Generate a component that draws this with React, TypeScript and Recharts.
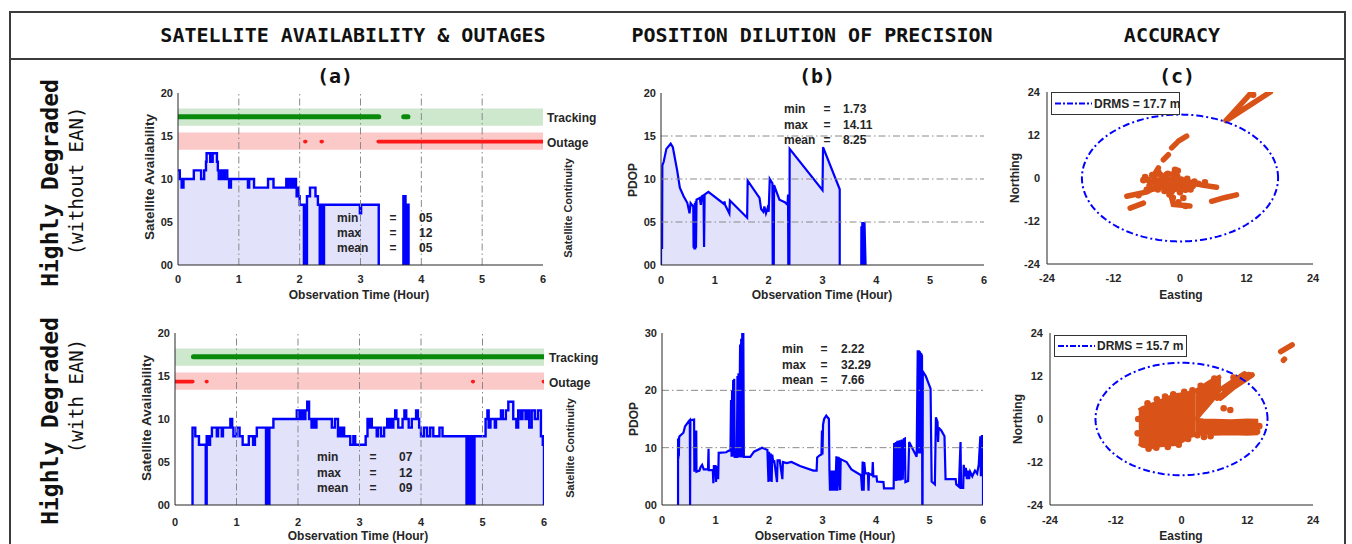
import React from 'react';
import { ComposedChart, Area, Line, Scatter, XAxis, YAxis, ReferenceArea, ReferenceLine } from 'recharts';

const SANS = "'Liberation Sans', Arial, Helvetica, sans-serif";
const MONO = "'DejaVu Sans Mono', 'Liberation Mono', monospace";
const BLUE = '#0000ff';
const LAV = '#e2e2fb';
const ORANGE = '#d95319';
const GRID = '#8a8a8a';
const INK = '#262626';
const GREEN_BAND = '#cde8cd';
const RED_BAND = '#fcc9c9';
const GREEN = '#0a8a0a';
const RED = '#ff1a1a';

// ---------- ticks ----------
const hourTicks = [0, 1, 2, 3, 4, 5, 6];
const gridHours = [1, 2, 3, 4, 5];
const availTicks = [0, 5, 10, 15, 20];
const pdopTopTicks = [0, 5, 10, 15, 20];
const pdopTopGrid = [5, 10, 15];
const pdopBotTicks = [0, 10, 20, 30];
const pdopBotGrid = [10, 20];
const enTicks = [-24, -12, 0, 12, 24];
const contTicks = [1, 2, 3, 4];

// ---------- satellite continuity bands ----------
const trackingBand: [number, number] = [16.2, 18.2];
const outageBand: [number, number] = [13.4, 15.4];
const trackingLevel = 17.25;
const outageLevel = 14.35;

const trackTop: [number, number][] = [[0, 3.3], [3.71, 3.78]];
const outageTop: [number, number][] = [[2.085, 2.1], [2.355, 2.37], [3.29, 6]];
const trackBot: [number, number][] = [[0.3, 6.02]];
const outageBot: [number, number][] = [[0, 0.29], [0.51, 0.52], [4.84, 4.85], [5.99, 6.0]];

// ---------- satellite availability (time h, count) ----------
const availTop: [number, number | null][] = [
  [0, 11], [0.03, 10], [0.06, 9], [0.09, 10], [0.26, 11], [0.38, 10], [0.43, 11], [0.46, 12], [0.47, 13],
  [0.53, 12], [0.57, 13], [0.64, 12], [0.655, 11], [0.67, 10], [0.71, 11], [0.75, 10], [0.77, 11], [0.81, 10],
  [0.84, 9], [0.87, 10], [1.15, 9], [1.17, 10], [1.25, 9], [1.48, 10], [1.57, 9], [1.78, 10], [1.8, 9],
  [1.82, 10], [1.86, 9], [1.88, 10], [1.9, 9], [1.92, 10], [1.94, 9], [1.95, 8], [1.97, 9], [1.98, 8],
  [2.0, 7], [2.07, 0], [2.075, 7], [2.1, 0], [2.12, 8], [2.17, 9], [2.26, 8], [2.3, 7], [2.33, 0], [2.34, 7],
  [2.345, 0], [2.355, 7], [2.36, 0], [2.37, 7], [2.375, 0], [2.385, 7], [2.39, 0], [2.4, 7], [2.99, 6],
  [3.01, 7], [3.3, 0], [3.31, null], [3.7, 0], [3.705, 8], [3.71, 0], [3.715, 8], [3.72, 0], [3.725, 8],
  [3.73, 0], [3.735, 8], [3.74, 0], [3.75, 7], [3.755, 0], [3.765, 7], [3.77, 0], [3.775, 7], [3.78, 0],
  [3.785, 7], [3.79, 0], [3.8, null],
];

const availBot: [number, number | null][] = [
  [0.28, 0], [0.285, 9], [0.33, 8], [0.39, 7], [0.5, 0], [0.515, 8], [0.55, 7], [0.57, 8], [0.6, 9],
  [0.68, 8], [0.7, 9], [0.76, 8], [0.78, 9], [0.9, 10], [0.93, 9], [0.95, 8], [1.0, 9], [1.05, 8], [1.1, 7],
  [1.2, 8], [1.27, 7], [1.3, 8], [1.33, 9], [1.48, 0], [1.49, 9], [1.495, 0], [1.505, 9], [1.51, 0],
  [1.52, 9], [1.525, 0], [1.535, 9], [1.6, 10], [1.98, 11], [2.0, 10], [2.02, 11], [2.05, 10], [2.07, 11],
  [2.1, 10], [2.12, 11], [2.15, 12], [2.18, 10], [2.22, 9], [2.25, 10], [2.27, 9], [2.3, 10], [2.55, 9],
  [2.6, 10], [2.65, 8], [2.68, 9], [2.7, 8], [2.72, 9], [2.75, 8], [2.85, 7], [2.9, 8], [2.93, 7],
  [3.1, 8], [3.13, 10], [3.15, 9], [3.18, 10], [3.2, 9], [3.28, 8], [3.3, 9], [3.35, 8], [3.4, 9],
  [3.45, 10], [3.47, 9], [3.5, 10], [3.53, 9], [3.55, 10], [3.58, 11], [3.6, 10], [3.63, 9], [3.7, 10],
  [3.73, 11], [3.76, 10], [3.8, 9], [3.85, 10], [3.92, 11], [3.95, 10], [3.97, 9], [4.0, 8], [4.05, 9],
  [4.1, 8], [4.15, 9], [4.2, 8], [4.3, 9], [4.35, 8], [4.74, 0], [4.75, 8], [4.755, 0], [4.765, 8],
  [4.77, 0], [4.78, 8], [4.785, 0], [4.795, 8], [4.8, 0], [4.81, 8], [4.815, 0], [4.825, 8], [4.83, 0],
  [4.84, 8], [4.845, 0], [4.855, 8], [4.86, 0], [4.87, 8], [5.05, 10], [5.08, 11], [5.1, 9], [5.13, 10],
  [5.2, 9], [5.22, 10], [5.3, 11], [5.33, 10], [5.38, 11], [5.42, 12], [5.5, 10], [5.55, 9], [5.58, 11],
  [5.62, 10], [5.65, 11], [5.7, 10], [5.73, 11], [5.76, 9], [5.8, 11], [5.85, 10], [5.9, 11], [5.95, 8],
  [5.98, 7], [6.0, 0],
];

// ---------- PDOP (time h, pdop) ----------
const pdopTop: [number, number | null][] = [
  [0, 0], [0.001, 2], [0.02, 2], [0.025, 11.6], [0.05, 12], [0.1, 13.5], [0.18, 14.1], [0.22, 13.7],
  [0.3, 11], [0.35, 9], [0.42, 8], [0.49, 7.2], [0.53, 6], [0.55, 7.2], [0.6, 6.8], [0.605, 2],
  [0.615, 7], [0.62, 1.8], [0.63, 7.2], [0.635, 1.8], [0.645, 7.4], [0.65, 2], [0.66, 7.6], [0.72, 7.8],
  [0.74, 7], [0.76, 8], [0.79, 8.1], [0.8, 2.1], [0.81, 8.2], [0.88, 8.5], [1.17, 7.1], [1.18, 7.4],
  [1.19, 7], [1.27, 6.0], [1.28, 7.5], [1.6, 5.5], [1.61, 9.8], [1.83, 7.8], [1.86, 6.5], [1.9, 6.2],
  [1.92, 6.8], [1.95, 6], [1.98, 6.6], [2.0, 6.2], [2.02, 10], [2.07, 9.5], [2.075, 0], [2.095, 0],
  [2.1, 9.3], [2.2, 7.6], [2.3, 7.3], [2.35, 7], [2.36, 8.2], [2.365, 0], [2.385, 0], [2.39, 13.5],
  [3.0, 8.7], [3.01, 13.7], [3.32, 8.8], [3.32, 0], [3.33, null], [3.72, 0], [3.722, 4.5], [3.73, 0],
  [3.74, 5], [3.75, 0], [3.76, 4.8], [3.77, 0], [3.78, 5], [3.8, 0], [3.81, null],
];

const pdopBot: [number, number | null][] = [
  [0.3, 0], [0.3, 11.5], [0.305, 8], [0.31, 11.7], [0.315, 8.5], [0.32, 11.8], [0.33, 12], [0.4, 12.6],
  [0.43, 13.7], [0.5, 14.6], [0.52, 14.8], [0.525, 0], [0.53, 14.8], [0.6, 14.9], [0.605, 6], [0.63, 6],
  [0.64, 13], [0.645, 5.8], [0.7, 6], [0.72, 6.6], [0.75, 7], [0.78, 6.2], [0.86, 6.2], [0.87, 9.8],
  [0.875, 6.1], [0.95, 6.1], [0.96, 3.8], [0.97, 6.8], [1.0, 6.8], [1.01, 4], [1.02, 6.8], [1.05, 4.5],
  [1.06, 9.1], [1.2, 9.2], [1.25, 9.5], [1.28, 9.5], [1.29, 18.3], [1.3, 8.4], [1.31, 20], [1.32, 8.4],
  [1.33, 21.8], [1.34, 8.4], [1.35, 22], [1.36, 8.4], [1.4, 8.4], [1.41, 22.5], [1.42, 8.3], [1.43, 23],
  [1.44, 8.3], [1.46, 28], [1.47, 8.3], [1.48, 29], [1.49, 8.3], [1.5, 30], [1.51, 8.3], [1.52, 30],
  [1.53, 8.4], [1.65, 8.4], [1.72, 9.3], [1.87, 10], [1.97, 9.6], [1.99, 4], [2.0, 9.3], [2.02, 4.2],
  [2.03, 9], [2.05, 4], [2.06, 8.8], [2.08, 7.5], [2.1, 7.6], [2.15, 4], [2.16, 7.8], [2.2, 7.8],
  [2.25, 4.5], [2.26, 7.5], [2.33, 7.3], [2.42, 7.5], [2.58, 6.8], [2.83, 6.0], [2.89, 6.0], [2.9, 8.3],
  [2.95, 8.7], [2.98, 8.8], [2.99, 13], [3.0, 8.8], [3.01, 14], [3.03, 15], [3.07, 15.6], [3.12, 15],
  [3.13, 6], [3.14, 2.5], [3.15, 6], [3.17, 2.5], [3.18, 6], [3.2, 2.5], [3.22, 6], [3.24, 2.5],
  [3.26, 8.5], [3.28, 2.5], [3.3, 8.4], [3.33, 2.6], [3.34, 8], [3.45, 7.5], [3.54, 6.2], [3.72, 5.2],
  [3.74, 2.5], [3.75, 7.6], [3.77, 2.5], [3.78, 7.5], [3.8, 5.5], [3.85, 5.5], [3.86, 2.5], [3.87, 5.5],
  [3.93, 5.2], [3.94, 7.5], [3.95, 5], [4.01, 5], [4.02, 4.1], [4.14, 4], [4.15, 2.9], [4.33, 2.9],
  [4.34, 10.8], [4.35, 4.2], [4.37, 11], [4.38, 4.2], [4.4, 11.2], [4.42, 4.3], [4.44, 11.3], [4.46, 4.3],
  [4.48, 11.4], [4.5, 4.4], [4.52, 11.5], [4.54, 11.6], [4.55, 4], [4.6, 4.2], [4.62, 11], [4.76, 8.4],
  [4.78, 27], [4.79, 9], [4.8, 27], [4.81, 9], [4.82, 26.8], [4.83, 9], [4.84, 26.5], [4.86, 26],
  [4.865, 0], [4.87, 0], [4.875, 23.3], [4.93, 22.5], [5.02, 20.3], [5.04, 4.1], [5.1, 3.6], [5.12, 15.3],
  [5.15, 14.5], [5.16, 11], [5.17, 13.5], [5.22, 13], [5.28, 12], [5.3, 4.5], [5.49, 4.5], [5.5, 3.6],
  [5.55, 3.2], [5.58, 11], [5.59, 3], [5.63, 3], [5.64, 7], [5.66, 5], [5.68, 6.5], [5.7, 4.5], [5.72, 6],
  [5.74, 4.5], [5.76, 5.8], [5.8, 5], [5.85, 6], [5.89, 5.5], [5.92, 7], [5.95, 12], [5.96, 5], [5.98, 12],
  [6.0, 12], [6.0, 0],
];

// ---------- accuracy scatter (Easting, Northing, m) ----------
const drmsTop = 17.7;
const drmsBot = 15.7;

const streaksTop: [number, number][][] = [
  [[8.3, 16], [13, 24]],
  [[8.3, 16], [16.3, 24]],
  [[-4.8, 0.5], [-3.9, 2.8]],
  [[-3.0, 5.1], [-2.1, 6.5]],
  [[-1.5, 8.4], [-0.6, 9.8]],
  [[-0.3, 10.3], [1.2, 11.7]],
  [[-9.6, -5.1], [-6, -3.9], [-3, -1.5]],
  [[2, -1.2], [4, -2], [6.6, -2.6]],
  [[5.7, -6.5], [8, -5.5], [10.2, -4.7]],
  [[-9, -8.4], [-6.6, -7]],
  [[-1.6, -5], [-1.2, -7.4], [1.8, -7.8]],
  [[-5.5, -1.0], [-1.5, -2.5], [2.5, -1.6]],
];
const dotsTop: [number, number][] = [
  [-6.3, 0.3], [-5.8, -0.5], [-5.2, -1.2], [-4.6, -0.2], [-4.2, -1.8], [-3.8, -0.8], [-3.4, -2.4],
  [-3.0, 0.2], [-2.7, -1.3], [-2.3, -2.8], [-2.0, -0.5], [-1.7, -1.9], [-1.3, 1.0], [-1.0, -0.8],
  [-0.8, -3.0], [-0.5, 0.5], [-0.2, -1.6], [0.2, -0.4], [0.5, -2.4], [0.9, -1.0], [1.3, -0.2],
  [1.6, -2.0], [-4.0, -3.2], [-2.8, -3.6], [-1.5, -3.8], [-0.4, 2.0], [-2.2, 1.2], [0.0, -4.0],
  [1.0, -3.3], [2.6, -1.0], [3.3, -1.6], [-5.5, -2.2], [-0.9, 2.3], [-3.6, 0.9], [-6.6, -0.6],
  [-1.9, -4.6], [0.6, -5.6], [12.8, 23.6], [13.2, 23.2], [4.5, -1.2], [-7.5, -4.8],
  [-4.9, -3.0], [-3.2, -1.0], [-2.5, 0.8], [-1.2, -2.6], [0.3, -3.1], [-0.6, -1.2], [1.9, -3.2],
  [-5.0, 0.8], [-3.9, 1.6], [-2.0, -3.2], [-1.0, 0.3], [2.3, -2.2], [-1.3, -5.5], [-0.3, -6.8],
  [1.0, -7.8], [-6.0, -3.3],
];

const blobMain: [number, number, number][] = [
  [-7.8, -6.8, 2.4], [-7.2, -7.4, 3.0], [-5.7, -7.9, 3.9], [-4.5, -7.6, 4.5], [-3.8, -7.3, 5.0],
  [-2.0, -7.1, 6.2], [-0.8, -6.9, 6.7], [0.5, -5.8, 7.0], [1.6, -4.8, 7.3], [2.6, -4.3, 7.9],
];
const blobTongue: [number, number, number][] = [
  [2.6, -0.2, 7.9], [3.5, 1.5, 8.7], [4.5, 3.2, 9.7], [5.5, 5.0, 10.7], [6.5, 7.0, 11.5], [7.2, 8.5, 12.0],
];
const blobBar: [number, number, number][] = [
  [2.6, -4.3, -0.2], [4, -3.8, -0.4], [6, -4.1, -0.5], [9, -4.0, -0.6], [12, -4.1, -0.4], [14.0, -4.0, -0.5],
];
const streaksBot: [number, number][][] = [
  [[6.5, 5.8], [12.9, 12.3]],
  [[7.5, 8.5], [11.5, 12.6]],
  [[7.1, 5.8], [10.8, 10.5]],
  [[18.1, 18.8], [20.2, 20.7]],
  [[18.6, 16.4], [18.8, 16.7]],
];
const dotsBot: [number, number][] = [
  [7.7, 3.0], [8.9, 2.5], [2.9, -4.5], [4.1, -5.0], [5.3, -4.8], [12.3, 12.3], [-8.0, -4], [-7.9, 0],
  [-6.0, -8.3], [-4.6, -8.0], [-6.2, 4.4], [-4.5, 5.5], [-3.0, 6.3], [-1.5, 6.9], [0.5, 7.6], [2.0, 8.0],
  [3.5, 9.3], [-2.5, -7.8], [-0.5, -7.2], [1.2, -5.6], [14.2, -2], [13.8, -3.5], [9.5, 11.6], [6.0, 11.3],
];

// ---------- stats ----------
const statsA1 = [['min', '05'], ['max', '12'], ['mean', '05']];
const statsB1 = [['min', '1.73'], ['max', '14.11'], ['mean', '8.25']];
const statsA2 = [['min', '07'], ['max', '12'], ['mean', '09']];
const statsB2 = [['min', '2.22'], ['max', '32.29'], ['mean', '7.66']];

// ---------- helpers ----------
type Pt = { x: number; y: number | null };
const toXY = (arr: [number, number | null][]): Pt[] => arr.map(([x, y]) => ({ x, y }));
const segs = (iv: [number, number][], level: number): Pt[] =>
  iv.flatMap(([a, b]) => [{ x: a, y: level }, { x: b, y: level }, { x: b, y: null }]);
const polyl = (lines: [number, number][][]): Pt[] =>
  lines.flatMap((l) => [...l.map(([x, y]) => ({ x, y })), { x: l[l.length - 1][0] + 0.001, y: null }]);
const rangeData = (arr: [number, number, number][]) => arr.map(([x, lo, hi]) => ({ x, r: [lo, hi] }));
const circle = (r: number): Pt[] =>
  Array.from({ length: 145 }, (_, i) => {
    const a = (i / 144) * 2 * Math.PI;
    return { x: r * Math.cos(a), y: r * Math.sin(a) };
  });
const pad2 = (v: number) => (v < 10 ? '0' + v : String(v));

const tickStyle = { fontFamily: SANS, fontSize: 11, fontWeight: 700, fill: INK };

type PlotProps = {
  rect: [number, number, number, number];
  xDomain: [number, number];
  xTicks: number[];
  yDomain: [number, number];
  yTicks: number[];
  yFmt?: (v: number) => string;
  xGap: number;
  yGap: number;
  rDomain?: [number, number];
  rTicks?: number[];
  children: React.ReactNode;
};

function Plot({ rect, xDomain, xTicks, yDomain, yTicks, yFmt, xGap, yGap, rDomain, rTicks, children }: PlotProps) {
  const [x0, y0, x1, y1] = rect;
  const PL = 60, PR = 10, PT = 10, PB = 40;
  const W = x1 - x0 + PL + PR;
  const H = y1 - y0 + PT + PB;
  return (
    <div style={{ position: 'absolute', left: x0 - PL, top: y0 - PT, width: W, height: H }}>
      <ComposedChart width={W} height={H} margin={{ top: PT, right: PR, bottom: 0, left: 0 }}>
        {children}
        <XAxis xAxisId="bm" orientation="bottom" mirror type="number" domain={xDomain} ticks={xTicks} height={0}
          tickSize={3} tick={false} axisLine={false} stroke={INK} allowDataOverflow />
        <YAxis yAxisId="lm" orientation="left" mirror type="number" domain={yDomain} ticks={yTicks} width={0}
          tickSize={3} tick={false} axisLine={false} stroke={INK} allowDataOverflow />
        <XAxis type="number" dataKey="x" domain={xDomain} ticks={xTicks} allowDataOverflow height={PB}
          tickSize={0} tickLine={false} tickMargin={xGap - 3.9} tick={tickStyle} stroke={INK} interval={0} />
        <XAxis xAxisId="top" orientation="top" mirror type="number" domain={xDomain} ticks={xTicks} height={0}
          tickSize={3} tick={false} stroke={INK} allowDataOverflow />
        <YAxis type="number" dataKey="y" domain={yDomain} ticks={yTicks} allowDataOverflow width={PL}
          tickSize={0} tickLine={false} tickMargin={yGap} tick={tickStyle} tickFormatter={yFmt} stroke={INK} interval={0} />
        <YAxis yAxisId="right" orientation="right" mirror type="number" domain={rDomain ?? yDomain}
          ticks={rTicks ?? yTicks} width={0} tickSize={4} tick={false} stroke={INK} allowDataOverflow />
      </ComposedChart>
    </div>
  );
}

type TxtProps = {
  x: number; y: number; children: React.ReactNode; size?: number; weight?: number;
  font?: string; anchor?: 'start' | 'middle' | 'end'; rot?: boolean; color?: string;
};
function Txt({ x, y, children, size = 12, weight = 700, font = SANS, anchor = 'start', rot = false, color = INK }: TxtProps) {
  const tx = anchor === 'middle' ? '-50%' : anchor === 'end' ? '-100%' : '0%';
  return (
    <div style={{
      position: 'absolute', left: x, top: y, whiteSpace: 'nowrap', lineHeight: 1,
      fontFamily: font, fontSize: size, fontWeight: weight, color,
      transform: rot ? 'translate(-50%, -50%) rotate(-90deg)' : `translate(${tx}, -50%)`,
    }}>{children}</div>
  );
}

function Stats({ rows, x, eqX, valX, y0, dy }: { rows: string[][]; x: number; eqX: number; valX: number; y0: number; dy: number }) {
  return (
    <>
      {rows.map(([k, v], i) => (
        <React.Fragment key={k}>
          <Txt x={x} y={y0 + i * dy} size={12}>{k}</Txt>
          <Txt x={eqX} y={y0 + i * dy} size={12} anchor="middle">=</Txt>
          <Txt x={valX} y={y0 + i * dy} size={12}>{v}</Txt>
        </React.Fragment>
      ))}
    </>
  );
}

function Legend({ x, y, w, h, label }: { x: number; y: number; w: number; h: number; label: string }) {
  return (
    <div style={{ position: 'absolute', left: x, top: y, width: w, height: h, boxSizing: 'border-box', border: '1.5px solid #333', background: '#fff' }}>
      <svg width={40} height={h} style={{ position: 'absolute', left: 3, top: 0 }}>
        <line x1={0} x2={37} y1={h / 2 - 1} y2={h / 2 - 1} stroke={BLUE} strokeWidth={2} strokeDasharray="6 2 2 2" />
      </svg>
      <div style={{ position: 'absolute', left: 42, top: '50%', transform: 'translateY(-50%)', fontFamily: SANS, fontSize: 12, fontWeight: 700, color: INK, whiteSpace: 'nowrap' }}>{label}</div>
    </div>
  );
}

function availChildren(data: Pt[], track: [number, number][], outage: [number, number][]) {
  return [
    <ReferenceArea key="gb" x1={0} x2={6} y1={trackingBand[0]} y2={trackingBand[1]} fill={GREEN_BAND} fillOpacity={1} stroke="none" ifOverflow="hidden" />,
    <ReferenceArea key="rb" x1={0} x2={6} y1={outageBand[0]} y2={outageBand[1]} fill={RED_BAND} fillOpacity={1} stroke="none" ifOverflow="hidden" />,
    <Area key="a" type="stepAfter" data={data} dataKey="y" stroke={BLUE} strokeWidth={2.4} fill={LAV} fillOpacity={1} isAnimationActive={false} connectNulls={false} dot={false} activeDot={false} />,
    ...gridHours.map((h) => <ReferenceLine key={'g' + h} x={h} stroke={GRID} strokeDasharray="7 3 1.5 3" strokeWidth={1} />),
    <Line key="tr" type="linear" data={segs(track, trackingLevel)} dataKey="y" stroke={GREEN} strokeWidth={5} strokeLinecap="round" dot={false} activeDot={false} isAnimationActive={false} connectNulls={false} />,
    <Line key="ou" type="linear" data={segs(outage, outageLevel)} dataKey="y" stroke={RED} strokeWidth={3.6} strokeLinecap="round" dot={false} activeDot={false} isAnimationActive={false} connectNulls={false} />,
  ];
}

function pdopChildren(data: Pt[], grid: number[]) {
  return [
    <Area key="a" type="linear" data={data} dataKey="y" stroke={BLUE} strokeWidth={2.2} fill={LAV} fillOpacity={1} isAnimationActive={false} connectNulls={false} dot={false} activeDot={false} />,
    ...grid.map((v) => <ReferenceLine key={'g' + v} y={v} stroke={GRID} strokeDasharray="7 3 1.5 3" strokeWidth={1} />),
  ];
}

const dotShape = (p: any) => <circle cx={p.cx} cy={p.cy} r={3.3} fill={ORANGE} />;

function accChildren(r: number, streaks: [number, number][][], dots: [number, number][], blobs: [number, number, number][][]) {
  return [
    ...blobs.map((b, i) => (
      <Area key={'b' + i} type="linear" data={rangeData(b)} dataKey="r" stroke={ORANGE} strokeWidth={4} fill={ORANGE} fillOpacity={1} isAnimationActive={false} dot={false} activeDot={false} />
    )),
    <Line key="st" type="linear" data={polyl(streaks)} dataKey="y" stroke={ORANGE} strokeWidth={5.5} strokeLinecap="round" dot={false} activeDot={false} isAnimationActive={false} connectNulls={false} />,
    <Scatter key="d" data={dots.map(([x, y]) => ({ x, y }))} dataKey="y" shape={dotShape} isAnimationActive={false} />,
    <Line key="c" type="linear" data={circle(r)} dataKey="y" stroke={BLUE} strokeWidth={2} strokeDasharray="7 3 2 3" dot={false} activeDot={false} isAnimationActive={false} />,
  ];
}

export default function App() {
  const hdr = { font: MONO, size: 20, weight: 700, anchor: 'middle' as const, color: '#111' };
  return (
    <div style={{ position: 'absolute', left: 0, top: 0, width: 1352, height: 544, background: '#fff', overflow: 'hidden' }}>
      {/* frame */}
      <div style={{ position: 'absolute', left: 9, top: 11, width: 1337, height: 560, border: '2px solid #3c3c3c', boxSizing: 'border-box' }} />
      <div style={{ position: 'absolute', left: 9, top: 58, width: 1337, height: 2, background: '#3c3c3c' }} />

      <Txt x={353} y={35} {...hdr}>SATELLITE AVAILABILITY &amp; OUTAGES</Txt>
      <Txt x={812} y={35} {...hdr}>POSITION DILUTION OF PRECISION</Txt>
      <Txt x={1172} y={35} {...hdr}>ACCURACY</Txt>
      <Txt x={335} y={76} {...hdr}>(a)</Txt>
      <Txt x={817} y={76} {...hdr}>(b)</Txt>
      <Txt x={1177} y={76} {...hdr}>(c)</Txt>

      <Txt x={50} y={183} font={MONO} size={23} weight={700} rot color="#111">Highly Degraded</Txt>
      <Txt x={76} y={181} font={MONO} size={19} weight={400} rot color="#111">(without EAN)</Txt>
      <Txt x={50} y={421} font={MONO} size={23} weight={700} rot color="#111">Highly Degraded</Txt>
      <Txt x={76} y={396} font={MONO} size={19} weight={400} rot color="#111">(with EAN)</Txt>

      {/* Row 1 */}
      <Plot rect={[178, 93, 543, 265]} xDomain={[0, 6]} xTicks={hourTicks} yDomain={[0, 20]} yTicks={availTicks}
        yFmt={pad2} xGap={13.7} yGap={5} rDomain={[0, 7]} rTicks={contTicks}>
        {availChildren(toXY(availTop), trackTop, outageTop)}
      </Plot>
      <Plot rect={[661, 93, 984, 265]} xDomain={[0, 6]} xTicks={hourTicks} yDomain={[0, 20]} yTicks={pdopTopTicks}
        yFmt={pad2} xGap={14.7} yGap={5}>
        {pdopChildren(toXY(pdopTop), pdopTopGrid)}
      </Plot>
      <Plot rect={[1047, 92, 1313, 264]} xDomain={[-24, 24]} xTicks={enTicks} yDomain={[-24, 24]} yTicks={enTicks}
        xGap={14.3} yGap={7}>
        {accChildren(drmsTop, streaksTop, dotsTop, [])}
      </Plot>

      {/* Row 2 */}
      <Plot rect={[175, 333, 544, 505]} xDomain={[0, 6]} xTicks={hourTicks} yDomain={[0, 20]} yTicks={availTicks}
        yFmt={pad2} xGap={16.7} yGap={5} rDomain={[0, 7]} rTicks={contTicks}>
        {availChildren(toXY(availBot), trackBot, outageBot)}
      </Plot>
      <Plot rect={[662, 333, 983, 505]} xDomain={[0, 6]} xTicks={hourTicks} yDomain={[0, 30]} yTicks={pdopBotTicks}
        yFmt={pad2} xGap={15} yGap={5}>
        {pdopChildren(toXY(pdopBot), pdopBotGrid)}
      </Plot>
      <Plot rect={[1050, 333, 1313, 505]} xDomain={[-24, 24]} xTicks={enTicks} yDomain={[-24, 24]} yTicks={enTicks}
        xGap={14.6} yGap={7}>
        {accChildren(drmsBot, streaksBot, dotsBot, [blobMain, blobTongue, blobBar])}
      </Plot>

      {/* axis titles */}
      <Txt x={359} y={295} anchor="middle">Observation Time (Hour)</Txt>
      <Txt x={822} y={295} anchor="middle">Observation Time (Hour)</Txt>
      <Txt x={1181} y={295} anchor="middle">Easting</Txt>
      <Txt x={358} y={536} anchor="middle">Observation Time (Hour)</Txt>
      <Txt x={825} y={536} anchor="middle">Observation Time (Hour)</Txt>
      <Txt x={1181} y={536} anchor="middle">Easting</Txt>

      <Txt x={150} y={177} rot size={13.5}>Satellite Availability</Txt>
      <Txt x={633} y={180} rot>PDOP</Txt>
      <Txt x={1015} y={178} rot>Northing</Txt>
      <Txt x={147} y={418} rot size={13.5}>Satellite Availability</Txt>
      <Txt x={634} y={419} rot>PDOP</Txt>
      <Txt x={1018} y={419} rot>Northing</Txt>

      <Txt x={568} y={208} rot size={11}>Satellite Continuity</Txt>
      <Txt x={570} y={448} rot size={11}>Satellite Continuity</Txt>
      <Txt x={547} y={118} size={12}>Tracking</Txt>
      <Txt x={547} y={143} size={12}>Outage</Txt>
      <Txt x={549} y={358} size={12}>Tracking</Txt>
      <Txt x={549} y={383} size={12}>Outage</Txt>

      <Stats rows={statsA1} x={337} eqX={393} valX={419} y0={218} dy={15} />
      <Stats rows={statsB1} x={784} eqX={827} valX={843} y0={109} dy={15.5} />
      <Stats rows={statsA2} x={317} eqX={373} valX={399} y0={457} dy={15.7} />
      <Stats rows={statsB2} x={782} eqX={824} valX={841} y0={349} dy={15.5} />

      <Legend x={1051} y={92} w={129} h={23} label="DRMS = 17.7 m" />
      <Legend x={1054} y={335} w={133} h={22} label="DRMS = 15.7 m" />
    </div>
  );
}
